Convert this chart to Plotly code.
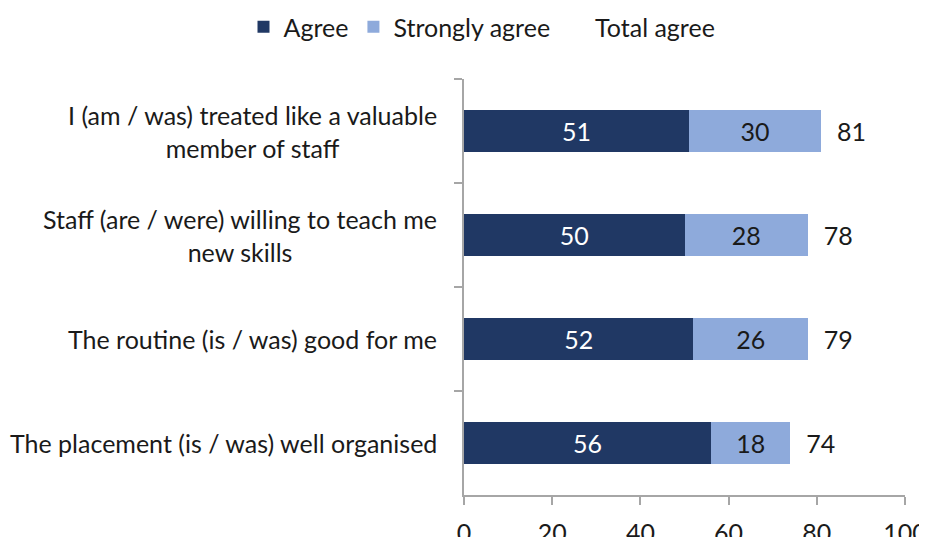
import plotly.graph_objects as go

categories = [
    "I (am / was) treated like a valuable<br>member of staff",
    "Staff (are / were) willing to teach me<br>new skills",
    "The routine (is / was) good for me",
    "The placement (is / was) well organised",
]
agree = [51, 50, 52, 56]
strongly_agree = [30, 28, 26, 18]
total_agree = [81, 78, 79, 74]
x_ticks = [0, 20, 40, 60, 80, 100]

FONT = "Lato, Carlito, Calibri, sans-serif"
FS = 25
DARK = "#203864"
LIGHT = "#8eaadb"
AXIS = "#a6a6a6"

fig = go.Figure()
fig.add_trace(go.Bar(
    y=categories, x=agree, orientation="h", name="Agree",
    marker=dict(color=DARK, line=dict(width=0)),
    text=agree, textposition="inside", insidetextanchor="middle",
    textfont=dict(color="white", size=FS, family=FONT), hoverinfo="skip",
))
fig.add_trace(go.Bar(
    y=categories, x=strongly_agree, orientation="h", name="Strongly agree",
    marker=dict(color=LIGHT, line=dict(width=0)),
    text=strongly_agree, textposition="inside", insidetextanchor="middle",
    textfont=dict(color="#1a1a1a", size=FS, family=FONT), hoverinfo="skip",
))
fig.add_trace(go.Bar(
    y=categories, x=total_agree, orientation="h", name="Total agree",
    marker=dict(color="rgba(0,0,0,0)", line=dict(width=0)),
    text=["\u00a0\u00a0" + str(v) for v in total_agree],
    textposition="inside", insidetextanchor="start",
    textfont=dict(color="#1a1a1a", size=FS, family=FONT), hoverinfo="skip",
))

for c in categories:
    fig.add_annotation(
        x=0, xref="paper", y=c, yref="y", text=c, showarrow=False,
        xanchor="right", yanchor="middle", align="center", xshift=-25,
        font=dict(size=FS, family=FONT, color="#1a1a1a"),
    )

fig.update_layout(
    barmode="stack",
    bargap=0.59,
    width=927, height=537,
    margin=dict(l=456, r=30, t=71, b=50, autoexpand=False),
    paper_bgcolor="white", plot_bgcolor="white",
    font=dict(family=FONT, size=FS, color="#1a1a1a"),
    legend=dict(
        orientation="h", xref="paper", yref="paper",
        x=-0.50, xanchor="left", y=1.18, yanchor="top",
        font=dict(size=FS, family=FONT), itemclick=False, traceorder="normal",
    ),
    showlegend=True,
)
fig.update_xaxes(
    range=[0, 100], tickvals=x_ticks, showgrid=False, zeroline=False,
    showline=True, linecolor=AXIS, linewidth=1.5,
    ticks="outside", ticklen=8, tickcolor=AXIS, tickwidth=1.5,
    ticklabelstandoff=7, tickfont=dict(size=FS, family=FONT, color="#1a1a1a"),
)
fig.update_yaxes(
    categoryorder="array", categoryarray=categories, autorange="reversed",
    showticklabels=False, showgrid=False, zeroline=False,
    showline=True, linecolor=AXIS, linewidth=1.5,
    ticks="outside", ticklen=8, tickcolor=AXIS, tickwidth=1.5, tickson="boundaries",
)

fig.write_html("out.html")
